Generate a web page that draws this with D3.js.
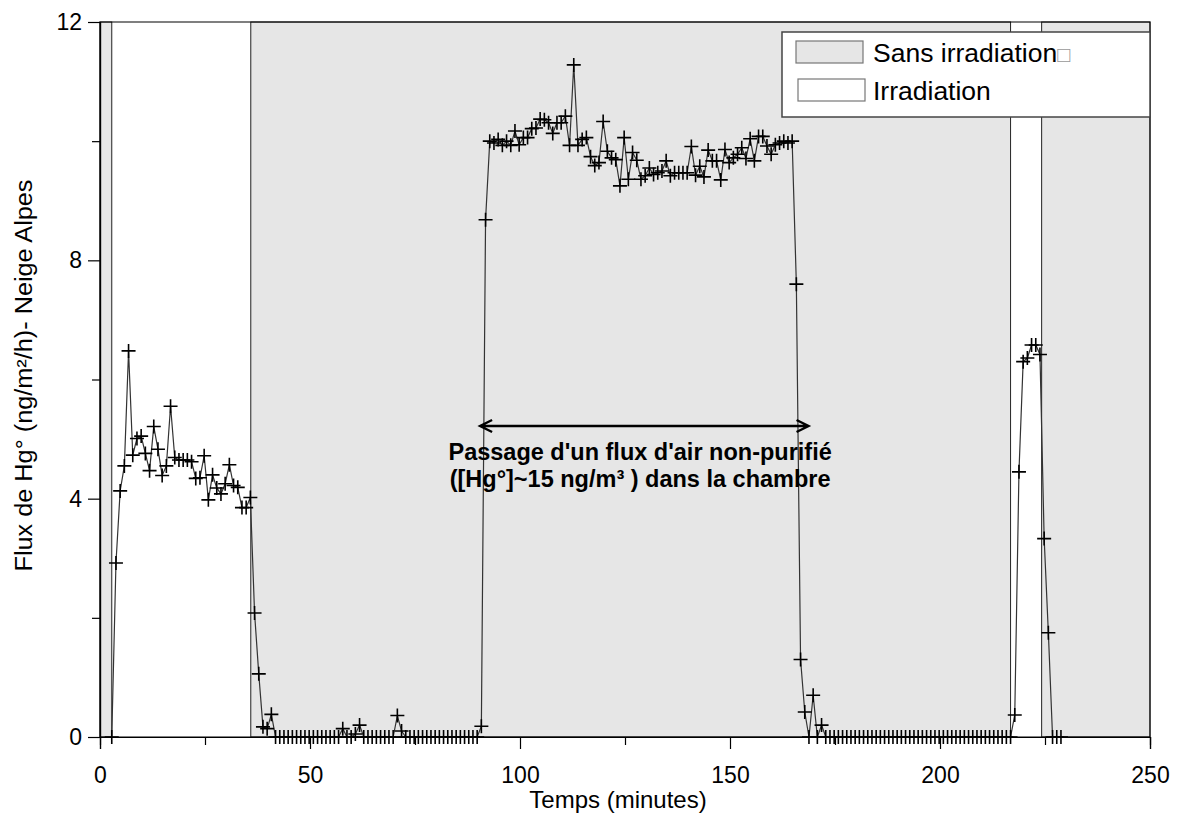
<!DOCTYPE html>
<html>
<head>
<meta charset="utf-8">
<script src="https://cdn.jsdelivr.net/npm/d3@7"></script>
<style>
  html, body { margin: 0; padding: 0; background: #fff; }
  svg { display: block; font-family: Arial, "Liberation Sans", sans-serif; }
</style>
</head>
<body>
<svg width="1178" height="816"></svg>
<script>
// one reading per minute, first one taken at 2.8 min
const firstMinute = 2.8;
const fluxValues = [
  0, 2.92, 4.13, 4.55, 6.48, 4.73, 5.01, 5.05, 4.76, 4.47,
  5.21, 4.83, 4.39, 4.55, 5.55, 4.69, 4.65, 4.65, 4.65, 4.62,
  4.34, 4.35, 4.72, 3.98, 4.40, 4.18, 4.08, 4.25, 4.57, 4.22,
  4.19, 3.85, 3.85, 4.02, 2.08, 1.06, 0.17, 0.14, 0.38,
  0, 0, 0, 0, 0, 0, 0, 0, 0, 0, 0, 0, 0, 0, 0, 0,
  0.14, 0, 0, 0.05, 0.2,
  0, 0, 0, 0, 0, 0, 0, 0,
  0.36, 0.1,
  0, 0, 0, 0, 0, 0, 0, 0, 0, 0, 0, 0, 0, 0, 0, 0, 0, 0,
  0.18, 8.68,
  10.0, 9.97, 10.03, 9.93, 10.0, 9.93, 10.17, 9.94, 10.06, 10.06,
  10.21, 10.22, 10.37, 10.36, 10.31, 10.13, 10.31, 10.31, 10.42, 9.93,
  11.28, 9.93, 10.03, 10.06, 9.74, 9.59, 9.64, 10.33, 9.83, 9.72,
  9.69, 9.25, 10.06, 9.36, 9.81, 9.68, 9.36, 9.42, 9.55, 9.44,
  9.47, 9.50, 9.67, 9.42, 9.47, 9.47, 9.47, 9.47, 9.91, 9.43,
  9.58, 9.40, 9.85, 9.67, 9.67, 9.35, 9.86, 9.64, 9.72, 9.78,
  9.89, 9.71, 10.04, 9.67, 10.08, 10.08, 9.92, 9.78, 9.94, 9.97,
  10.0, 9.97, 10.0,
  7.6, 1.3, 0.42, 0, 0.70, 0, 0.2,
  0, 0, 0, 0, 0, 0, 0, 0, 0, 0, 0, 0, 0, 0, 0,
  0, 0, 0, 0, 0, 0, 0, 0, 0, 0, 0, 0, 0, 0, 0,
  0, 0, 0, 0, 0, 0, 0, 0, 0, 0, 0, 0, 0, 0, 0,
  0.37, 4.45, 6.3, 6.36, 6.58, 6.58, 6.42, 3.33, 1.75, 0, 0, 0
];

// periods without irradiation (grey), in minutes
const darkStart = [0, 35.9, 224.2];
const darkEnd = [2.8, 216.8, 250];

const xTicks = [0, 50, 100, 150, 200, 250];
const xMinorTicks = [25, 75, 125, 175, 225];
const yTicks = [0, 4, 8, 12];
const yMinorTicks = [2, 6, 10];

const legendLabels = ["Sans irradiation", "Irradiation"];
const arrowFrom = 90.5, arrowTo = 168.7, arrowLevel = 5.22;
const noteLines = ["Passage d'un flux d'air non-purifié", "([Hg°]~15 ng/m³ ) dans la chambre"];

const svg = d3.select("svg");
const margin = { top: 22, right: 28, bottom: 79, left: 100 };
const width = 1178 - margin.left - margin.right;
const height = 816 - margin.top - margin.bottom;
const grey = "#e6e6e6";

const x = d3.scaleLinear().domain([0, 250]).range([0, width]);
const y = d3.scaleLinear().domain([0, 12]).range([height, 0]);

const g = svg.append("g").attr("transform", `translate(${margin.left},${margin.top})`);

// background periods
g.selectAll("rect.dark")
  .data(darkStart.map((s, i) => ({ s, e: darkEnd[i] })))
  .join("rect")
  .attr("class", "dark")
  .attr("x", d => x(d.s))
  .attr("width", d => x(d.e) - x(d.s))
  .attr("y", 0)
  .attr("height", height)
  .attr("fill", grey)
  .attr("stroke", "#222")
  .attr("stroke-width", 1);

// frame
g.append("rect")
  .attr("width", width).attr("height", height)
  .attr("fill", "none").attr("stroke", "#000").attr("stroke-width", 1);

// axes
g.append("g").attr("transform", `translate(0,${height})`)
  .call(d3.axisBottom(x).tickValues(xTicks).tickSize(12).tickPadding(18).tickFormat(d3.format("d")));
g.append("g").attr("transform", `translate(0,${height})`)
  .call(d3.axisBottom(x).tickValues(xMinorTicks).tickSize(8).tickFormat(""));
g.append("g")
  .call(d3.axisLeft(y).tickValues(yTicks).tickSize(12).tickPadding(6).tickFormat(d3.format("d")));
g.append("g")
  .call(d3.axisLeft(y).tickValues(yMinorTicks).tickSize(8).tickFormat(""));

g.selectAll(".domain").attr("stroke", "#000").attr("stroke-width", 1.2);
g.selectAll(".tick line").attr("stroke", "#000").attr("stroke-width", 1.2);
g.selectAll(".tick text").attr("font-size", "23px").attr("fill", "#000")
  .attr("font-family", "Arial, 'Liberation Sans', sans-serif");

// axis titles
svg.append("text")
  .attr("x", 618).attr("y", 808)
  .attr("text-anchor", "middle")
  .attr("font-size", "24px")
  .text("Temps (minutes)");

svg.append("text")
  .attr("transform", `translate(32,${margin.top + height / 2 - 4}) rotate(-90)`)
  .attr("text-anchor", "middle")
  .attr("font-size", "23px")
  .attr("textLength", 392)
  .attr("lengthAdjust", "spacingAndGlyphs")
  .text("Flux de Hg° (ng/m²/h)- Neige Alpes");

// data line and markers
const points = fluxValues.map((v, i) => ({ t: firstMinute + i, v }));

g.append("path")
  .datum(points)
  .attr("fill", "none")
  .attr("stroke", "#333")
  .attr("stroke-width", 1.2)
  .attr("d", d3.line().x(d => x(d.t)).y(d => y(d.v)));

const arm = 7;
g.selectAll("path.mark")
  .data(points)
  .join("path")
  .attr("class", "mark")
  .attr("d", d => {
    const px = x(d.t), py = y(d.v);
    return `M${px - arm},${py}H${px + arm}M${px},${py - arm}V${py + arm}`;
  })
  .attr("stroke", "#000")
  .attr("stroke-width", 1.6)
  .attr("fill", "none");

// double arrow annotation
const ay = y(arrowLevel);
const ax0 = x(arrowFrom), ax1 = x(arrowTo);
g.append("path")
  .attr("d", `M${ax0},${ay}H${ax1}M${ax0 + 12},${ay - 6}L${ax0},${ay}L${ax0 + 12},${ay + 6}M${ax1 - 12},${ay - 6}L${ax1},${ay}L${ax1 - 12},${ay + 6}`)
  .attr("fill", "none")
  .attr("stroke", "#000")
  .attr("stroke-width", 2.4);

g.selectAll("text.note")
  .data(noteLines)
  .join("text")
  .attr("class", "note")
  .attr("x", x(128.6))
  .attr("y", (d, i) => ay + 34 + i * 27)
  .attr("text-anchor", "middle")
  .attr("font-size", "23.5px")
  .attr("font-weight", "bold")
  .text(d => d);

// legend
const legend = svg.append("g");
legend.append("rect")
  .attr("x", 782).attr("y", 32).attr("width", 368).attr("height", 85)
  .attr("fill", "#fff").attr("stroke", "#444").attr("stroke-width", 1.5);

legend.selectAll("rect.swatch")
  .data(legendLabels)
  .join("rect")
  .attr("class", "swatch")
  .attr("x", (d, i) => 796 + i * 2)
  .attr("y", (d, i) => 41 + i * 38)
  .attr("width", 67).attr("height", 22)
  .attr("fill", (d, i) => i === 0 ? grey : "#fff")
  .attr("stroke", "#777").attr("stroke-width", 1.2);

const legendText = legend.selectAll("text.leg")
  .data(legendLabels)
  .join("text")
  .attr("class", "leg")
  .attr("x", 873)
  .attr("y", (d, i) => 62 + i * 38)
  .attr("font-size", "26.5px")
  .text(d => d);

legendText.filter((d, i) => i === 0)
  .append("tspan")
  .attr("font-size", "22px")
  .attr("fill", "#999")
  .text("\u25A1");
</script>
</body>
</html>
